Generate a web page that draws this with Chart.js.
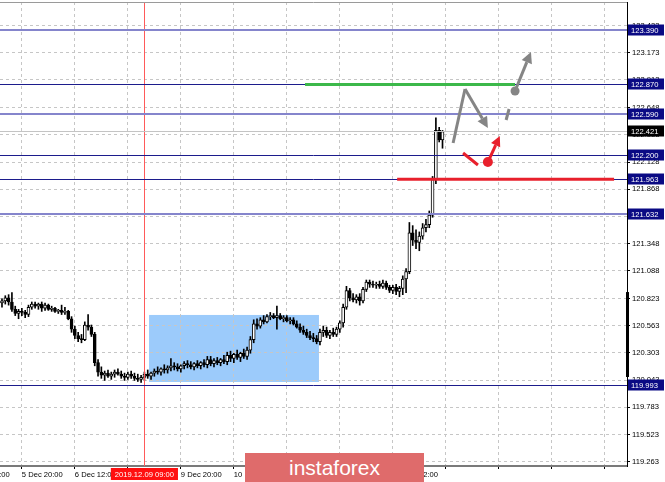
<!DOCTYPE html>
<html><head><meta charset="utf-8">
<style>
html,body{margin:0;padding:0;background:#fff;}
#wrap{position:relative;width:665px;height:482px;overflow:hidden;}
canvas{position:absolute;left:0;top:0;}
#wm{position:absolute;left:245px;top:453px;width:179px;height:29px;background:#df6b6b;color:#fff;font:21px "Liberation Sans",Arial,sans-serif;text-align:center;line-height:29px;}
</style>
<script src="https://cdn.jsdelivr.net/npm/chart.js@4.4.1/dist/chart.umd.min.js"></script>
</head><body>
<div id="wrap"><canvas id="c" width="665" height="482"></canvas><div id="wm">instaforex</div></div>
<script>
// Hourly candles, bar 0 = 5 Dec 14:00 ... bar 133 = 13 Dec 03:00
const opens  = [120.78,120.80,120.83,120.79,120.72,120.68,120.70,120.69,120.67,120.74,120.77,120.75,120.77,120.73,120.76,120.72,120.73,120.70,120.71,120.69,120.70,120.63,120.53,120.47,120.44,120.43,120.57,120.55,120.48,120.21,120.12,120.09,120.11,120.08,120.10,120.12,120.10,120.08,120.07,120.10,120.08,120.06,120.05,120.07,120.10,120.08,120.11,120.13,120.12,120.15,120.14,120.16,120.18,120.17,120.15,120.18,120.20,120.19,120.17,120.20,120.18,120.21,120.19,120.24,120.20,120.23,120.21,120.24,120.22,120.28,120.25,120.29,120.26,120.30,120.27,120.33,120.43,120.58,120.56,120.62,120.60,120.65,120.66,120.64,120.66,120.63,120.64,120.61,120.62,120.58,120.55,120.52,120.50,120.47,120.45,120.44,120.41,120.50,120.52,120.47,120.50,120.48,120.53,120.59,120.74,120.90,120.83,120.81,120.84,120.80,120.91,120.98,120.96,120.95,120.96,120.94,120.97,120.93,120.90,120.93,120.89,120.92,121.01,121.08,121.45,121.38,121.36,121.42,121.50,121.53,121.62,121.96,122.43,122.34];
const highs  = [120.82,120.85,120.86,120.88,120.75,120.72,120.73,120.71,120.76,120.79,120.79,120.78,120.79,120.78,120.77,120.75,120.74,120.72,120.76,120.74,120.71,120.65,120.56,120.50,120.48,120.60,120.67,120.57,120.50,120.24,120.17,120.13,120.14,120.12,120.14,120.15,120.13,120.11,120.12,120.13,120.11,120.10,120.09,120.12,120.14,120.12,120.15,120.17,120.16,120.19,120.18,120.25,120.21,120.20,120.19,120.22,120.23,120.22,120.21,120.23,120.22,120.24,120.27,120.27,120.25,120.26,120.25,120.28,120.31,120.32,120.30,120.33,120.31,120.34,120.36,120.46,120.62,120.63,120.64,120.66,120.67,120.69,120.68,120.75,120.68,120.66,120.66,120.64,120.64,120.61,120.58,120.56,120.53,120.51,120.49,120.47,120.53,120.56,120.55,120.52,120.54,120.55,120.61,120.77,120.94,120.92,120.87,120.86,120.87,120.93,121.00,121.00,120.99,120.98,120.99,121.00,120.99,120.95,120.95,120.96,120.94,121.04,121.11,121.55,121.52,121.48,121.46,121.54,121.58,121.66,121.99,122.55,122.46,122.43];
const lows   = [120.74,120.77,120.76,120.70,120.66,120.63,120.66,120.64,120.65,120.72,120.73,120.72,120.70,120.71,120.71,120.70,120.69,120.68,120.67,120.67,120.62,120.50,120.44,120.41,120.40,120.42,120.52,120.46,120.18,120.08,120.06,120.04,120.07,120.05,120.07,120.09,120.06,120.04,120.05,120.06,120.04,120.03,120.02,120.04,120.06,120.05,120.08,120.10,120.09,120.11,120.11,120.13,120.14,120.13,120.12,120.15,120.16,120.15,120.14,120.16,120.15,120.17,120.16,120.18,120.17,120.19,120.18,120.20,120.19,120.22,120.21,120.24,120.22,120.25,120.24,120.30,120.40,120.53,120.54,120.58,120.59,120.62,120.63,120.53,120.62,120.60,120.60,120.58,120.57,120.54,120.50,120.48,120.45,120.43,120.41,120.39,120.38,120.46,120.45,120.44,120.46,120.46,120.50,120.55,120.72,120.80,120.79,120.78,120.76,120.78,120.89,120.93,120.93,120.92,120.92,120.92,120.91,120.88,120.87,120.86,120.84,120.86,120.88,121.06,121.33,121.30,121.28,121.39,121.46,121.50,121.60,121.92,122.32,122.26];
const closes = [120.80,120.83,120.79,120.72,120.68,120.70,120.69,120.67,120.74,120.77,120.75,120.77,120.73,120.76,120.72,120.73,120.70,120.71,120.69,120.70,120.63,120.53,120.47,120.44,120.43,120.57,120.55,120.48,120.21,120.12,120.09,120.11,120.08,120.10,120.12,120.10,120.08,120.07,120.10,120.08,120.06,120.05,120.07,120.10,120.08,120.11,120.13,120.12,120.15,120.14,120.16,120.18,120.17,120.15,120.18,120.20,120.19,120.17,120.20,120.18,120.21,120.19,120.24,120.20,120.23,120.21,120.24,120.22,120.28,120.25,120.29,120.26,120.30,120.27,120.33,120.43,120.58,120.56,120.62,120.60,120.65,120.66,120.64,120.66,120.63,120.64,120.61,120.62,120.58,120.55,120.52,120.50,120.47,120.45,120.44,120.41,120.50,120.52,120.47,120.50,120.48,120.53,120.59,120.74,120.90,120.83,120.81,120.84,120.80,120.91,120.98,120.96,120.95,120.96,120.94,120.97,120.93,120.90,120.93,120.89,120.92,121.01,121.08,121.45,121.38,121.36,121.42,121.50,121.53,121.62,121.96,122.43,122.34,122.42];

// time axis: bar slots of the tick labels
const xTickBars   = [-10, 6, 22, 38, 54, 70, 86, 102, 118, 134, 150, 166, 182];
const xTickLabels = ['5 Dec 04:00','5 Dec 20:00','6 Dec 12:00','9 Dec 04:00','9 Dec 20:00','10 Dec 12:00','11 Dec 04:00','11 Dec 20:00','12 Dec 12:00','','','',''];
const xRange = [-0.6, 188.7];
// price axis
const yTickLabels = ['119.263','119.523','119.783','120.043','120.303','120.563','120.823','121.088','121.348','121.608','121.868','122.128','122.388','122.648','122.913','123.173','123.433'];
const yRange = [119.222, 123.658];

// horizontal levels
const levelPrices = [123.390, 122.870, 122.590, 122.200, 121.963, 121.632, 119.993];
const levelKinds  = ['major','minor','major','minor','minor','major','minor'];
const currentPrice = 122.421;
// marked zone & vertical line
const zoneBars = [44.4, 95.7];
const zonePrices = [120.025, 120.666];
const vlineBar = 43;
const vlineLabel = '2019.12.09 09:00';
const axisBandPrices = [120.073, 120.885];
// target segments
const greenSeg = {bars:[91.5, 154.9], price:122.870};
const redSeg   = {bars:[119.3, 184.8], price:121.963};
// forecast drawings [bar, price]
const grayPath  = [[136.2,122.310],[139.8,122.826],[146.7,122.453]];
const grayDash  = [[152.2,122.530],[153.1,122.635]];
const grayDot   = [154.9,122.807];
const grayArrowTip = [159.7,123.180];
const redStroke = [[139.2,122.214],[143.7,122.100]];
const redDot    = [146.7,122.128];
const redArrowTip = [150.3,122.377];

const FONT = {family:'"Liberation Sans", Arial, sans-serif', size:7.6};
const yTickValues = yTickLabels.map(parseFloat);

const bodyData = opens.map((o,i)=>({x:i, y:[o, closes[i]]}));
const wickData = opens.map((o,i)=>({x:i, y:[lows[i], highs[i]]}));
const bodyColors = opens.map((o,i)=> closes[i] >= o ? '#ffffff' : '#000000');

function arrow(ctx, x1, y1, x2, y2, color, w, head){
  const a = Math.atan2(y2-y1, x2-x1);
  const bx = x2 - head*Math.cos(a), by = y2 - head*Math.sin(a);
  ctx.strokeStyle = color; ctx.lineWidth = w;
  ctx.beginPath(); ctx.moveTo(x1,y1); ctx.lineTo(bx,by); ctx.stroke();
  ctx.fillStyle = color; ctx.beginPath();
  ctx.moveTo(x2,y2);
  ctx.lineTo(bx + head*0.5*Math.sin(a), by - head*0.5*Math.cos(a));
  ctx.lineTo(bx - head*0.5*Math.sin(a), by + head*0.5*Math.cos(a));
  ctx.closePath(); ctx.fill();
}

const overlay = {
  id:'overlay',
  beforeDraw(chart){
    const {ctx, scales:{x,y}} = chart;
    const x1 = x.getPixelForValue(zoneBars[0]), x2 = x.getPixelForValue(zoneBars[1]);
    const y1 = y.getPixelForValue(zonePrices[1]), y2 = y.getPixelForValue(zonePrices[0]);
    ctx.save(); ctx.fillStyle = '#9ccbfb'; ctx.fillRect(x1, y1, x2-x1, y2-y1); ctx.restore();
  },
  afterDatasetsDraw(chart){
    const {ctx, chartArea:ca, scales:{x,y}} = chart;
    const P = (b,p)=>[x.getPixelForValue(b), y.getPixelForValue(p)];
    ctx.save();
    ctx.beginPath(); ctx.rect(ca.left, ca.top, ca.right-ca.left, ca.bottom-ca.top); ctx.clip();
    // vertical line
    const vx = Math.round(x.getPixelForValue(vlineBar)) + 0.5;
    ctx.strokeStyle = '#ff5a5a'; ctx.lineWidth = 1;
    ctx.beginPath(); ctx.moveTo(vx, ca.top); ctx.lineTo(vx, ca.bottom); ctx.stroke();
    // current price line
    let cy = Math.round(y.getPixelForValue(currentPrice)) + 0.5;
    ctx.strokeStyle = '#c4c4c4'; ctx.lineWidth = 1;
    ctx.beginPath(); ctx.moveTo(ca.left, cy); ctx.lineTo(ca.right, cy); ctx.stroke();
    // levels
    levelPrices.forEach((p,k)=>{
      const major = levelKinds[k] === 'major';
      const yy = major ? Math.round(y.getPixelForValue(p)) : Math.round(y.getPixelForValue(p)) + 0.5;
      ctx.strokeStyle = major ? '#8585cc' : '#1c1c8c';
      ctx.lineWidth = major ? 2 : 1;
      ctx.beginPath(); ctx.moveTo(ca.left, yy); ctx.lineTo(ca.right, yy); ctx.stroke();
    });
    // target segments
    [[greenSeg,'#3cb84a'],[redSeg,'#e8202c']].forEach(([s,c])=>{
      const a = P(s.bars[0], s.price), b = P(s.bars[1], s.price);
      ctx.strokeStyle = c; ctx.lineWidth = 3;
      ctx.beginPath(); ctx.moveTo(a[0], a[1]); ctx.lineTo(b[0], b[1]); ctx.stroke();
    });
    // gray forecast
    const gray = '#858585';
    const g0 = P(...grayPath[0]), g1 = P(...grayPath[1]), g2 = P(...grayPath[2]);
    ctx.strokeStyle = gray; ctx.lineWidth = 3; ctx.lineJoin = 'miter';
    ctx.beginPath(); ctx.moveTo(g0[0], g0[1]); ctx.lineTo(g1[0], g1[1]); ctx.stroke();
    arrow(ctx, g1[0], g1[1], g2[0], g2[1], gray, 3, 11);
    const d0 = P(...grayDash[0]), d1 = P(...grayDash[1]);
    ctx.strokeStyle = gray; ctx.lineWidth = 3;
    ctx.beginPath(); ctx.moveTo(d0[0], d0[1]); ctx.lineTo(d1[0], d1[1]); ctx.stroke();
    const gd = P(...grayDot), gt = P(...grayArrowTip);
    arrow(ctx, gd[0], gd[1], gt[0], gt[1], gray, 3, 11);
    ctx.fillStyle = gray; ctx.beginPath(); ctx.arc(gd[0], gd[1], 4.5, 0, Math.PI*2); ctx.fill();
    // red forecast
    const red = '#e8202c';
    const r0 = P(...redStroke[0]), r1 = P(...redStroke[1]);
    ctx.strokeStyle = red; ctx.lineWidth = 3;
    ctx.beginPath(); ctx.moveTo(r0[0], r0[1]); ctx.lineTo(r1[0], r1[1]); ctx.stroke();
    const rd = P(...redDot), rt = P(...redArrowTip);
    arrow(ctx, rd[0], rd[1], rt[0], rt[1], red, 3, 10);
    ctx.fillStyle = red; ctx.beginPath(); ctx.arc(rd[0], rd[1], 5, 0, Math.PI*2); ctx.fill();
    ctx.restore();
  },
  afterDraw(chart){
    const {ctx, chartArea:ca, scales:{x,y}} = chart;
    ctx.save();
    // top frame
    ctx.strokeStyle = '#9a9a9a'; ctx.lineWidth = 1;
    ctx.beginPath(); ctx.moveTo(ca.left, ca.top + 0.5); ctx.lineTo(ca.right, ca.top + 0.5); ctx.stroke();
    // band on price axis
    const b1 = y.getPixelForValue(axisBandPrices[1]), b2 = y.getPixelForValue(axisBandPrices[0]);
    ctx.fillStyle = '#000'; ctx.fillRect(ca.right - 1, b1, 3, b2 - b1);
    // level boxes
    ctx.font = FONT.size + 'px ' + FONT.family;
    ctx.textBaseline = 'middle'; ctx.textAlign = 'left';
    const box = (p, bg) => {
      const yy = Math.round(y.getPixelForValue(p));
      ctx.fillStyle = bg; ctx.fillRect(ca.right + 1, yy - 5.5, 36, 11);
      ctx.fillStyle = '#fff'; ctx.fillText(p.toFixed(3), ca.right + 4, yy + 0.5);
    };
    levelPrices.forEach(p => box(p, '#0a0a84'));
    box(currentPrice, '#000');
    // date box on time axis
    const vx = x.getPixelForValue(vlineBar);
    const tw = ctx.measureText(vlineLabel).width;
    ctx.fillStyle = '#ff1010';
    ctx.fillRect(vx - tw/2 - 4, ca.bottom + 2, tw + 8, 12);
    ctx.fillStyle = '#fff'; ctx.textAlign = 'center';
    ctx.fillText(vlineLabel, vx, ca.bottom + 8.5);
    ctx.restore();
  }
};

new Chart(document.getElementById('c'), {
  type:'bar',
  data:{datasets:[
    {data:bodyData, backgroundColor:bodyColors, borderColor:'#000', borderWidth:1, borderSkipped:false, barThickness:3, grouped:false, order:0},
    {data:wickData, backgroundColor:'#000', borderWidth:0, barThickness:1, grouped:false, order:1}
  ]},
  options:{
    responsive:false, animation:false, devicePixelRatio:1,
    plugins:{legend:{display:false}, tooltip:{enabled:false}},
    layout:{padding:{top:2, left:0, right:0, bottom:0}},
    scales:{
      x:{
        type:'linear', min:xRange[0], max:xRange[1], offset:false, position:'bottom',
        afterBuildTicks: s => { s.ticks = xTickBars.map(v => ({value:v})); },
        afterFit: s => { s.height = 16; s.paddingLeft = 0; s.paddingRight = 0; },
        ticks:{autoSkip:false, maxRotation:0, minRotation:0, align:'start', padding:1, font:FONT, color:'#000',
               callback:(v, i) => xTickLabels[i]},
        grid:{offset:false, color:'#c6c6c6', tickColor:'#000', tickLength:3, drawTicks:true, lineWidth:1, tickBorderDash:[]},
        border:{color:'#7a7a7a', width:2, dash:[3,3]}
      },
      y:{
        type:'linear', position:'right', min:yRange[0], max:yRange[1],
        afterBuildTicks: s => { s.ticks = yTickValues.map(v => ({value:v})); },
        afterFit: s => { s.width = 38; s.paddingTop = 0; s.paddingBottom = 0; },
        ticks:{padding:2, font:FONT, color:'#000', callback:(v, i) => yTickLabels[i]},
        grid:{color:'#c6c6c6', tickColor:'#000', tickLength:3, drawTicks:true, lineWidth:1, tickBorderDash:[]},
        border:{color:'#000', width:1, dash:[3,3]}
      }
    }
  },
  plugins:[overlay]
});
</script>
</body></html>
